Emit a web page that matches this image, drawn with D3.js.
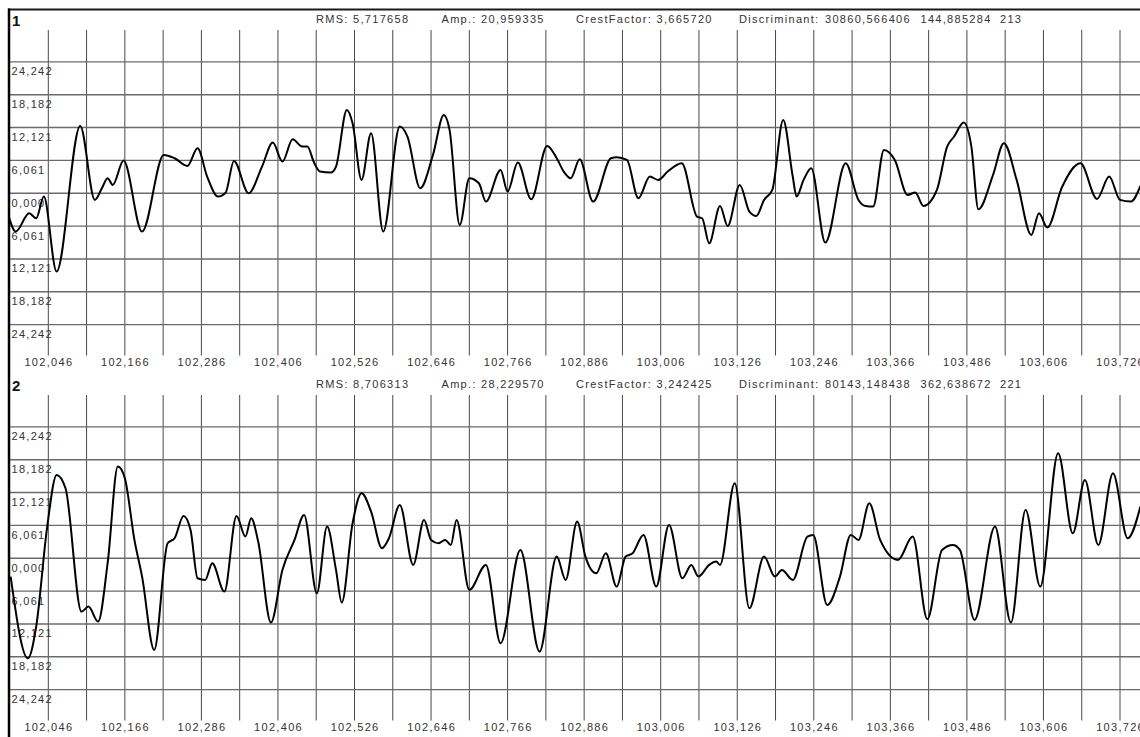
<!DOCTYPE html>
<html lang="en">
<head>
    <meta charset="UTF-8">
    <script src="https://cdn.jsdelivr.net/npm/d3@7"></script>
    <title>Signal 1 / 2</title>
    <style>
        html, body {
            margin: 0px;
            padding: 0px;
            background-color: #ffffff;
        }
        svg text {
            font-family: "Liberation Sans", Arial, sans-serif;
            font-size: 11px;
            letter-spacing: 1.3px;
            fill: #333;
        }
    </style>
</head>
<body>
    <div id="chart"></div>

    <script>
        // ---- data ----
        const xTicks = d3.range(29).map(i => 102.046 + i * 0.06);
        const xLabels = ['102,046', '102,166', '102,286', '102,406', '102,526', '102,646', '102,766', '102,886',
                         '103,006', '103,126', '103,246', '103,366', '103,486', '103,606', '103,726'];
        const yTicks = [24.242, 18.182, 12.121, 6.061, 0, -6.061, -12.121, -18.182, -24.242];
        const yLabels = ['24,242', '18,182', '12,121', '6,061', '0,000', '6,061', '12,121', '18,182', '24,242'];

        const stats1 = ['RMS: 5,717658', 'Amp.: 20,959335', 'CrestFactor: 3,665720', 'Discriminant:', '30860,566406', '144,885284', '213'];
        const stats2 = ['RMS: 8,706313', 'Amp.: 28,229570', 'CrestFactor: 3,242425', 'Discriminant:', '80143,148438', '362,638672', '221'];

        const t1 = [101.984, 101.995, 102.016, 102.027, 102.039, 102.059, 102.096, 102.119, 102.130, 102.139,
                    102.147, 102.164, 102.193, 102.227, 102.244, 102.264, 102.280, 102.295, 102.312, 102.324,
                    102.337, 102.360, 102.381, 102.398, 102.413, 102.429, 102.444, 102.452, 102.463, 102.472,
                    102.489, 102.497, 102.514, 102.523, 102.537, 102.552, 102.571, 102.597, 102.609, 102.629,
                    102.649, 102.666, 102.675, 102.691, 102.706, 102.721, 102.732, 102.755, 102.766, 102.782,
                    102.803, 102.828, 102.843, 102.854, 102.865, 102.879, 102.900, 102.928, 102.937, 102.953,
                    102.971, 102.989, 103.002, 103.017, 103.039, 103.063, 103.071, 103.082, 103.099, 103.111,
                    103.130, 103.145, 103.156, 103.168, 103.181, 103.198, 103.213, 103.219, 103.230, 103.242,
                    103.264, 103.296, 103.316, 103.327, 103.339, 103.356, 103.373, 103.393, 103.405, 103.418,
                    103.439, 103.455, 103.466, 103.481, 103.493, 103.504, 103.527, 103.544, 103.564, 103.587,
                    103.599, 103.612, 103.635, 103.664, 103.690, 103.709, 103.726, 103.743, 103.758];
        const v1 = [-4.31, -7.07, -3.69, -4.61, -0.62, -14.45, 12.42, -1.23, 0.92, 2.77,
                    1.54, 6.03, -7.07, 7.07, 6.46, 5.04, 8.30, 3.08, -0.62, 0.12,
                    5.97, 0.00, 4.92, 9.35, 5.84, 9.96, 8.61, 8.61, 5.54, 4.00,
                    3.81, 4.92, 15.38, 12.92, 2.46, 11.07, -7.07, 12.30, 10.46, 0.92,
                    7.07, 14.45, 11.69, -5.84, 2.77, 1.85, -1.54, 4.31, 0.31, 5.66,
                    -1.11, 8.73, 6.46, 4.00, 2.77, 6.27, -1.54, 6.46, 6.64, 6.15,
                    -0.92, 3.08, 2.46, 4.00, 5.54, -4.31, -4.61, -9.23, -2.34, -6.03,
                    1.54, -3.38, -4.18, -1.23, 0.62, 13.53, 3.08, -0.62, 2.46, 4.61,
                    -9.10, 5.54, -1.23, -2.34, -2.46, 8.00, 6.15, -0.31, 0.12, -2.34,
                    0.62, 8.61, 10.46, 13.04, 8.61, -2.95, 3.38, 9.23, 2.46, -7.69,
                    -3.69, -6.33, 1.11, 5.54, -1.05, 3.08, -1.23, -1.54, 1.35];

        const t2 = [101.987, 102.014, 102.027, 102.044, 102.059, 102.073, 102.098, 102.109, 102.124, 102.139,
                    102.155, 102.166, 102.181, 102.193, 102.212, 102.233, 102.244, 102.258, 102.269, 102.280,
                    102.292, 102.303, 102.322, 102.341, 102.355, 102.364, 102.375, 102.395, 102.413, 102.432,
                    102.447, 102.467, 102.483, 102.497, 102.506, 102.523, 102.537, 102.552, 102.569, 102.580,
                    102.597, 102.618, 102.635, 102.646, 102.658, 102.668, 102.677, 102.686, 102.706, 102.732,
                    102.755, 102.786, 102.816, 102.843, 102.857, 102.875, 102.888, 102.905, 102.920, 102.937,
                    102.951, 102.962, 102.979, 102.999, 103.019, 103.040, 103.054, 103.065, 103.082, 103.093,
                    103.099, 103.122, 103.145, 103.168, 103.185, 103.196, 103.213, 103.236, 103.245, 103.267,
                    103.287, 103.304, 103.316, 103.333, 103.350, 103.378, 103.401, 103.424, 103.447, 103.464,
                    103.475, 103.498, 103.530, 103.555, 103.578, 103.601, 103.629, 103.652, 103.671, 103.692,
                    103.715, 103.738, 103.758];
        const v2 = [-3.38, -18.45, -12.61, 5.54, 15.38, 12.92, -9.84, -8.92, -11.69, -0.92,
                    16.91, 14.76, 3.38, -3.38, -16.91, 2.77, 3.69, 7.81, 5.23, -3.69,
                    -4.00, -0.92, -6.15, 7.81, 4.00, 7.38, 3.08, -11.87, -2.15, 3.38,
                    8.00, -6.46, 5.84, -2.15, -8.18, 6.46, 11.99, 8.61, 1.85, 3.69,
                    9.84, -1.23, 7.07, 3.38, 2.77, 3.38, 2.46, 7.07, -5.84, -1.23,
                    -15.68, 1.54, -17.22, 0.31, -4.00, 6.77, 0.31, -2.77, 0.92, -5.23,
                    0.31, 0.92, 4.31, -5.23, 6.15, -3.69, -1.23, -3.38, -1.23, -0.62,
                    -1.23, 13.84, -9.23, 0.31, -3.38, -2.15, -4.00, 4.00, 4.31, -8.61,
                    -3.38, 4.31, 3.38, 10.15, 3.38, -0.31, 4.00, -11.25, 1.54, 2.46,
                    1.54, -11.38, 5.84, -11.87, 8.92, -5.23, 19.37, 4.61, 14.45, 2.46,
                    15.68, 3.69, 9.53];

        // ---- layout ----
        let width = 1140;
        let height = 737;
        let left = 9;
        let panelTop = [29, 394];
        let plotH = 328.5;
        let statX = [316, 441.5, 576, 739, 825, 920.5, 1000];

        let svg = d3.select('#chart').append('svg').attr('width', width).attr('height', height);

        let x = d3.scaleLinear().domain([102.046, 103.726]).range([48.3, 1120]);

        svg.append('defs').append('clipPath').attr('id', 'clip')
            .append('rect').attr('x', left + 1).attr('y', 0).attr('width', width - left).attr('height', height);

        function drawPanel(idx, label, stats, ts, vs) {
            let top = panelTop[idx];
            let y = d3.scaleLinear().domain([-30.3025, 30.3025]).range([top + plotH, top]);
            let g = svg.append('g');

            // vertical grid
            g.selectAll('line.v')
                .data(xTicks)
                .join('line')
                .attr('x1', d => x(d)).attr('x2', d => x(d))
                .attr('y1', top + 1).attr('y2', top + plotH - 2)
                .attr('stroke', '#484848')
                .attr('stroke-width', 1);

            // horizontal grid
            g.selectAll('line.h')
                .data(yTicks)
                .join('line')
                .attr('x1', left).attr('x2', width)
                .attr('y1', d => y(d)).attr('y2', d => y(d))
                .attr('stroke', '#6a6a6a')
                .attr('stroke-width', 1.4);

            // y labels, just under each line
            g.selectAll('text.yl')
                .data(yTicks)
                .join('text')
                .attr('x', left + 2.5)
                .attr('y', d => y(d) + 13.4)
                .text((d, i) => yLabels[i]);

            // x labels
            g.selectAll('text.xl')
                .data(xLabels)
                .join('text')
                .attr('text-anchor', 'middle')
                .attr('x', (d, i) => x(xTicks[i * 2]) + 0.6)
                .attr('y', top + 336.7)
                .text(d => d);

            // header
            g.append('text')
                .attr('x', left + 3).attr('y', top - 3)
                .style('font-size', '15px').style('font-weight', 'bold')
                .style('letter-spacing', '0px').style('fill', '#111')
                .text(label);
            g.selectAll('text.st')
                .data(stats)
                .join('text')
                .attr('x', (d, i) => statX[i])
                .attr('y', top - 5.7)
                .text(d => d);

            // signal
            let line = d3.line()
                .x(d => x(d[0]))
                .y(d => y(d[1]))
                .curve(d3.curveMonotoneX);
            g.append('path')
                .datum(d3.zip(ts, vs))
                .attr('clip-path', 'url(#clip)')
                .attr('d', line)
                .attr('fill', 'none')
                .attr('stroke', '#000')
                .attr('stroke-width', 2)
                .attr('stroke-linejoin', 'round');
        }

        drawPanel(0, '1', stats1, t1, v1);
        drawPanel(1, '2', stats2, t2, v2);

        // frame: top and left border
        svg.append('line')
            .attr('x1', left - 1).attr('x2', width)
            .attr('y1', 9.5).attr('y2', 9.5)
            .attr('stroke', '#1a1a1a').attr('stroke-width', 1.8);
        svg.append('line')
            .attr('x1', left).attr('x2', left)
            .attr('y1', 8.6).attr('y2', height)
            .attr('stroke', '#000').attr('stroke-width', 2.5);
    </script>
</body>
</html>
